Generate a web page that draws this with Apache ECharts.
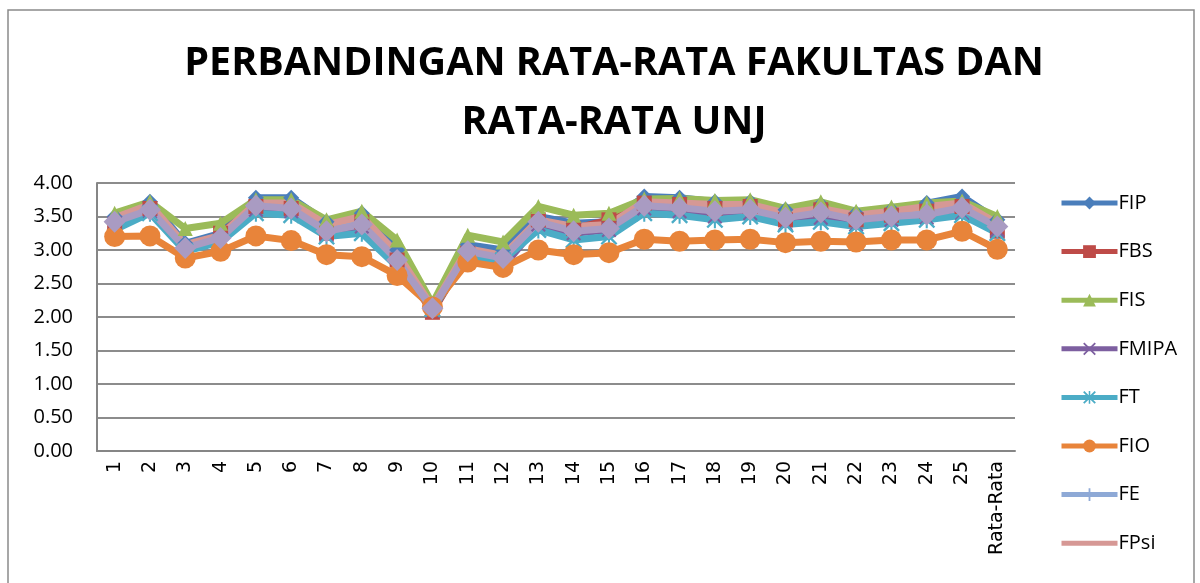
<!DOCTYPE html>
<html>
<head>
<meta charset="utf-8">
<script src="https://cdn.jsdelivr.net/npm/echarts@6/dist/echarts.min.js"></script>
<style>
  html, body { margin: 0; padding: 0; background: #fff; }
  #chart { width: 1200px; height: 583px; }
</style>
</head>
<body>
<div id="chart"></div>
<script>
const categories = ['1', '2', '3', '4', '5', '6', '7', '8', '9', '10', '11', '12', '13',
  '14', '15', '16', '17', '18', '19', '20', '21', '22', '23', '24', '25', 'Rata-Rata'];

const yTicks = [0, 0.5, 1, 1.5, 2, 2.5, 3, 3.5, 4];

const fip = [3.50, 3.72, 3.10, 3.25, 3.78, 3.78, 3.42, 3.55, 3.00, 2.15, 3.08, 3.00, 3.50,
  3.40, 3.42, 3.80, 3.78, 3.72, 3.72, 3.60, 3.68, 3.55, 3.60, 3.70, 3.80, 3.45];
const fbs = [3.35, 3.62, 2.98, 3.25, 3.65, 3.62, 3.25, 3.42, 2.85, 2.07, 2.95, 2.85, 3.45,
  3.32, 3.45, 3.70, 3.68, 3.62, 3.65, 3.45, 3.60, 3.45, 3.52, 3.58, 3.65, 3.28];
const fis = [3.55, 3.72, 3.32, 3.40, 3.75, 3.75, 3.45, 3.58, 3.15, 2.20, 3.22, 3.12, 3.65,
  3.52, 3.55, 3.76, 3.77, 3.74, 3.75, 3.62, 3.72, 3.58, 3.64, 3.70, 3.73, 3.50];
const fmipa = [3.40, 3.58, 3.00, 3.15, 3.60, 3.58, 3.22, 3.35, 2.80, 2.10, 2.95, 2.75, 3.38,
  3.25, 3.30, 3.62, 3.58, 3.50, 3.55, 3.40, 3.48, 3.38, 3.45, 3.48, 3.55, 3.30];
const ft = [3.30, 3.55, 2.98, 3.12, 3.55, 3.52, 3.20, 3.25, 2.75, 2.12, 2.90, 2.85, 3.30,
  3.15, 3.20, 3.55, 3.52, 3.45, 3.50, 3.38, 3.42, 3.35, 3.40, 3.45, 3.52, 3.25];
const fio = [3.20, 3.21, 2.88, 2.98, 3.21, 3.14, 2.93, 2.90, 2.62, 2.15, 2.82, 2.74, 3.00,
  2.93, 2.96, 3.16, 3.13, 3.15, 3.16, 3.11, 3.13, 3.12, 3.15, 3.15, 3.28, 3.01];
const fe = [3.45, 3.65, 3.05, 3.20, 3.68, 3.65, 3.32, 3.40, 2.85, 2.12, 3.00, 2.90, 3.42,
  3.30, 3.35, 3.70, 3.68, 3.62, 3.65, 3.52, 3.60, 3.48, 3.55, 3.62, 3.68, 3.35];
const fpsi = [3.48, 3.68, 3.08, 3.22, 3.70, 3.70, 3.38, 3.50, 2.95, 2.15, 3.02, 2.92, 3.45,
  3.35, 3.38, 3.72, 3.70, 3.68, 3.68, 3.55, 3.62, 3.52, 3.58, 3.65, 3.70, 3.40];
const unj = [3.42, 3.60, 3.03, 3.18, 3.66, 3.62, 3.28, 3.38, 2.85, 2.13, 2.98, 2.88, 3.42,
  3.28, 3.32, 3.66, 3.63, 3.58, 3.60, 3.48, 3.56, 3.45, 3.50, 3.53, 3.63, 3.35];

const legendNames = ['FIP', 'FBS', 'FIS', 'FMIPA', 'FT', 'FIO', 'FE', 'FPsi'];

// simbol-simbol ala Excel (titik sudut kecil supaya kotak batasnya 10x10)
const box = ' M0,0L0.01,0L0,0.01Z M10,10L9.99,10L10,9.99Z';
const crossPath = 'path://M0,1L1,0L5,4L9,0L10,1L6,5L10,9L9,10L5,6L1,10L0,9L4,5Z';
const starPath = 'path://M0,1L1,0L5,4L9,0L10,1L6,5L10,9L9,10L5,6L1,10L0,9L4,5Z M4.4,0L5.6,0L5.6,10L4.4,10Z';
const tickPath = 'path://M4.3,0L5.7,0L5.7,10L4.3,10Z' + box;
const blankPath = 'path://M0,0L0.01,0L0,0.01Z' + box;

function makeSeries(name, data, color, symbol, size) {
  return {
    name: name,
    type: 'line',
    data: data,
    symbol: symbol,
    symbolSize: size,
    showAllSymbol: true,
    lineStyle: { color: color, width: 7 },
    itemStyle: { color: color },
    emphasis: { disabled: true },
    animation: false
  };
}

const chart = echarts.init(document.getElementById('chart'));

const option = {
  backgroundColor: '#fff',
  title: {
    text: 'PERBANDINGAN RATA-RATA FAKULTAS DAN\nRATA-RATA UNJ',
    left: 609,
    textAlign: 'center',
    top: 29,
    textStyle: {
      fontFamily: 'Open Sans',
      fontWeight: 'bold',
      fontSize: 39.5,
      lineHeight: 59,
      color: '#000'
    }
  },
  legend: {
    data: legendNames,
    orient: 'vertical',
    left: 1054,
    top: 188,
    itemWidth: 56,
    itemHeight: 16,
    itemGap: 28.6,
    lineStyle: { width: 5 },
    textStyle: { fontFamily: 'Open Sans', fontSize: 20, color: '#000', padding: [0, 0, 0, -4] }
  },
  grid: { left: 97, right: 185, top: 183, bottom: 132 },
  xAxis: {
    type: 'category',
    data: categories,
    boundaryGap: true,
    axisLine: { lineStyle: { color: '#868686', width: 2 } },
    axisTick: { show: false },
    axisLabel: {
      rotate: 90,
      interval: 0,
      margin: 10,
      fontFamily: 'DejaVu Sans',
      fontSize: 19,
      color: '#000'
    }
  },
  yAxis: {
    type: 'value',
    min: yTicks[0],
    max: yTicks[yTicks.length - 1],
    interval: 0.5,
    axisLine: { show: true, lineStyle: { color: '#868686', width: 2 } },
    axisTick: { show: false },
    splitLine: { lineStyle: { color: '#8c8c8c', width: 2 } },
    axisLabel: {
      margin: 24,
      fontFamily: 'Open Sans',
      fontSize: 20,
      color: '#000',
      formatter: v => v.toFixed(2)
    }
  },
  graphic: [{
    type: 'rect',
    shape: { x: 8, y: 10, width: 1186, height: 600 },
    style: { fill: 'none', stroke: '#8a8a8a', lineWidth: 1.5 },
    silent: true
  }],
  series: [
    makeSeries('FIP', fip, '#4A7EBB', 'diamond', 16),
    makeSeries('FBS', fbs, '#BE4B48', 'rect', 15),
    makeSeries('FIS', fis, '#9BBB59', 'triangle', 15),
    makeSeries('FMIPA', fmipa, '#7D5FA0', crossPath, 15),
    makeSeries('FT', ft, '#4BACC6', starPath, 17),
    makeSeries('FIO', fio, '#E8843A', 'circle', 21),
    makeSeries('FE', fe, '#8EA9D6', tickPath, 14),
    makeSeries('FPsi', fpsi, '#D69895', blankPath, 2),
    makeSeries('UNJ', unj, '#A99BC2', 'diamond', 22)
  ]
};

chart.setOption(option);
</script>
</body>
</html>
